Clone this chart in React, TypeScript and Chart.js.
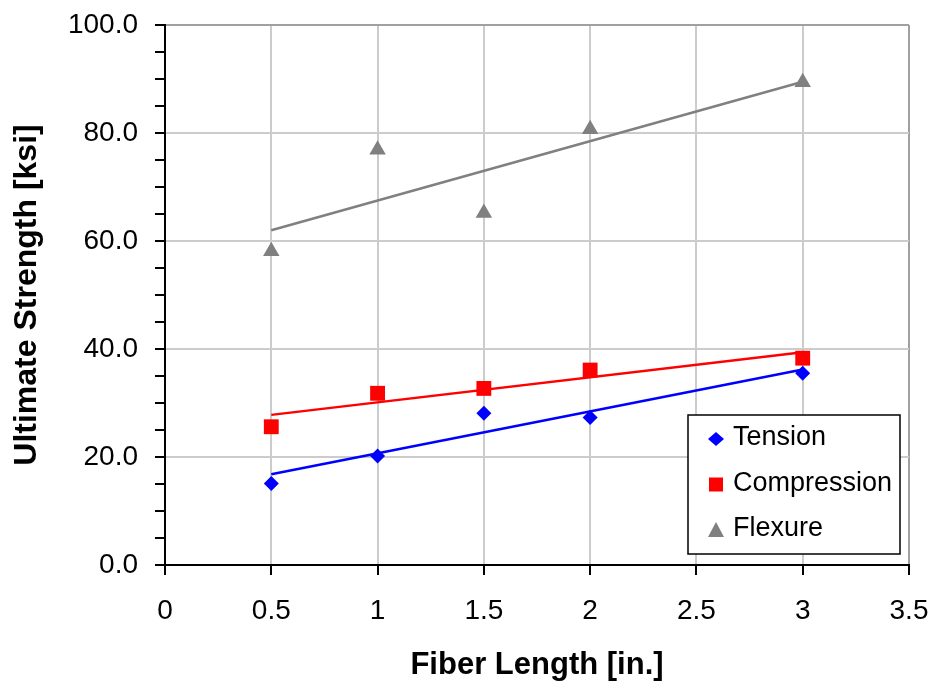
import React, { useEffect, useRef } from "react";
import { Chart, registerables } from "chart.js";

Chart.register(...registerables);

const fiberLengths = [0.5, 1, 1.5, 2, 3];
const tension = [15.1, 20.2, 28.1, 27.3, 35.5];
const compression = [25.6, 31.8, 32.7, 36.1, 38.3];
const flexure = [58.1, 76.9, 65.2, 80.7, 89.4];
const trendX = [0.5, 3];
const tensionTrend = [16.8, 36.2];
const compressionTrend = [27.8, 39.4];
const flexureTrend = [62.0, 89.5];
const seriesNames = ["Tension", "Compression", "Flexure"];
const seriesColors = ["#0000ff", "#ff0000", "#808080"];
const xTitle = "Fiber Length [in.]";
const yTitle = "Ultimate Strength [ksi]";

const FONT = "'Liberation Sans', Arial, sans-serif";

function pts(xs: number[], ys: number[]) {
  return xs.map((x, i) => ({ x, y: ys[i] }));
}

function drawMarker(ctx: CanvasRenderingContext2D, style: string, x: number, y: number, color: string) {
  ctx.fillStyle = color;
  ctx.beginPath();
  if (style === "rectRot") {
    ctx.moveTo(x, y - 7);
    ctx.lineTo(x + 8, y);
    ctx.lineTo(x, y + 7);
    ctx.lineTo(x - 8, y);
    ctx.closePath();
  } else if (style === "rect") {
    ctx.rect(x - 7, y - 7, 14, 14);
  } else {
    ctx.moveTo(x, y - 8);
    ctx.lineTo(x + 8, y + 7);
    ctx.lineTo(x - 8, y + 7);
    ctx.closePath();
  }
  ctx.fill();
}

const boxLegend = {
  id: "boxLegend",
  afterDraw(chart: any) {
    const ctx: CanvasRenderingContext2D = chart.ctx;
    const ca = chart.chartArea;
    const x0 = ca.right - 221;
    const y0 = ca.bottom - 150;
    const w = 212;
    const h = 139;
    ctx.save();
    ctx.fillStyle = "#ffffff";
    ctx.fillRect(x0, y0, w, h);
    ctx.strokeStyle = "#000000";
    ctx.lineWidth = 1.5;
    ctx.strokeRect(x0, y0, w, h);
    const items = chart.data.datasets.filter((d: any) => d.inLegend);
    items.forEach((d: any, i: number) => {
      const cy = y0 + 23 + i * 45.5;
      drawMarker(ctx, d.pointStyle, x0 + 28, cy + 1, d.backgroundColor);
      ctx.fillStyle = "#000000";
      ctx.font = `27px ${FONT}`;
      ctx.textBaseline = "middle";
      ctx.textAlign = "left";
      ctx.fillText(d.label, x0 + 45, cy);
    });
    ctx.restore();
  },
};

export default function App() {
  const ref = useRef<HTMLCanvasElement | null>(null);
  useEffect(() => {
    if (!ref.current) return;
    const markerSets = [
      { label: seriesNames[0], data: pts(fiberLengths, tension), pointStyle: "rectRot", pointRadius: 7.5, color: seriesColors[0] },
      { label: seriesNames[1], data: pts(fiberLengths, compression), pointStyle: "rect", pointRadius: 10.5, color: seriesColors[1] },
      { label: seriesNames[2], data: pts(fiberLengths, flexure), pointStyle: "triangle", pointRadius: 9.5, color: seriesColors[2] },
    ].map((s) => ({
      label: s.label,
      data: s.data,
      pointStyle: s.pointStyle,
      pointRadius: s.pointRadius,
      pointBorderWidth: 0,
      backgroundColor: s.color,
      borderColor: s.color,
      showLine: false,
      inLegend: true,
      order: 0,
    }));
    const trends = [tensionTrend, compressionTrend, flexureTrend].map((t, i) => ({
      label: seriesNames[i] + " trend",
      data: pts(trendX, t),
      showLine: true,
      pointRadius: 0,
      borderColor: seriesColors[i],
      backgroundColor: seriesColors[i],
      borderWidth: 2.5,
      inLegend: false,
      order: 1,
    }));
    const tickFont = { family: FONT, size: 28 };
    const chart = new Chart(ref.current, {
      type: "scatter",
      data: { datasets: [...markerSets, ...trends] as any },
      plugins: [boxLegend],
      options: {
        animation: false,
        responsive: true,
        maintainAspectRatio: false,
        layout: { padding: { top: 25, right: 25, left: 0, bottom: 0 } },
        plugins: { legend: { display: false }, tooltip: { enabled: false } },
        scales: {
          x: {
            type: "linear",
            min: 0,
            max: 3.5,
            ticks: {
              stepSize: 0.5,
              autoSkip: false,
              maxRotation: 0,
              font: tickFont,
              color: "#000000",
              padding: 19,
              callback: (v: any) => String(v),
            },
            grid: {
              color: (c: any) => (c.tick && c.tick.value === 3.5 ? "#a0a0a0" : "#cccccc"),
              lineWidth: 2,
              tickColor: "#000000",
              tickLength: 10,
              tickWidth: 2,
            },
            border: { color: "#000000", width: 2 },
            title: {
              display: true,
              text: xTitle,
              color: "#000000",
              font: { family: FONT, size: 31, weight: "bold" },
              padding: { top: 0, bottom: 0 },
            },
            afterFit: (s: any) => {
              s.height = 119;
              s.paddingLeft = 0;
              s.paddingRight = 0;
              s.paddingTop = 0;
              s.paddingBottom = 0;
            },
          },
          y: {
            type: "linear",
            min: 0,
            max: 100,
            ticks: {
              stepSize: 5,
              autoSkip: false,
              font: tickFont,
              color: "#000000",
              padding: 17,
              callback: (v: any) => (Number(v) % 20 === 0 ? Number(v).toFixed(1) : ""),
            },
            grid: {
              color: (c: any) => {
                const v = c.tick ? c.tick.value : 0;
                if (v === 100) return "#a0a0a0";
                return v % 20 === 0 ? "#cccccc" : "rgba(0,0,0,0)";
              },
              lineWidth: 2,
              tickColor: "#000000",
              tickLength: 10,
              tickWidth: 2,
            },
            border: { color: "#000000", width: 2 },
            title: {
              display: true,
              text: yTitle,
              color: "#000000",
              font: { family: FONT, size: 32, weight: "bold" },
              padding: { top: 8, bottom: 0 },
            },
            afterFit: (s: any) => {
              s.width = 165;
              s.paddingLeft = 0;
              s.paddingRight = 0;
              s.paddingTop = 0;
              s.paddingBottom = 0;
            },
          },
        },
      } as any,
    });
    return () => chart.destroy();
  }, []);
  return (
    <div style={{ position: "absolute", left: 0, top: 0, width: 934, height: 684, background: "#ffffff" }}>
      <canvas ref={ref} />
    </div>
  );
}
